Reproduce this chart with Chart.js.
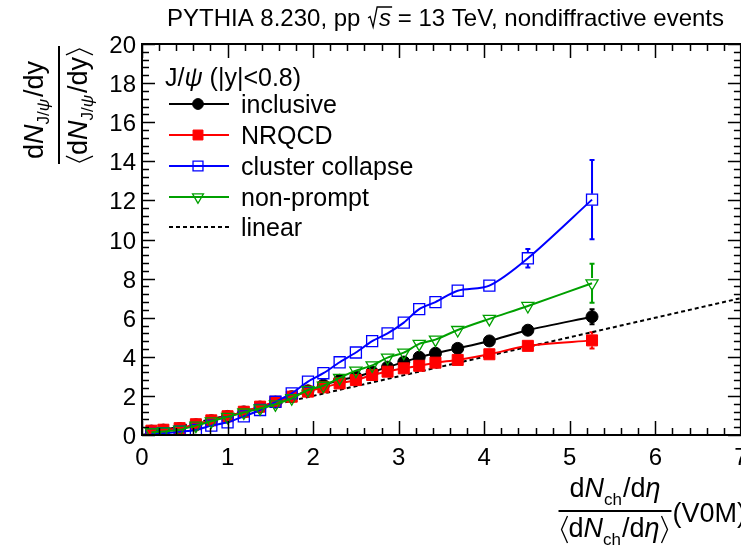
<!DOCTYPE html>
<html>
<head>
<meta charset="utf-8">
<script src="https://cdn.jsdelivr.net/npm/chart.js@4.4.0/dist/chart.umd.min.js"></script>
<style>
  html, body { margin: 0; padding: 0; background: #fff; overflow: hidden; }
  #wrap { position: relative; width: 750px; height: 545px; }
</style>
</head>
<body>
<div id="wrap"><canvas id="chart" width="750" height="545"></canvas></div>
<script>
// Self-normalised multiplicity bins (V0M)
const multiplicity = [0.11, 0.25, 0.44, 0.63, 0.81, 1.00, 1.19, 1.38, 1.56, 1.75, 1.94, 2.12,
  2.31, 2.50, 2.69, 2.87, 3.06, 3.24, 3.43, 3.69, 4.06, 4.51, 5.26];

// Self-normalised J/psi yields
const inclusive = [0.20, 0.25, 0.33, 0.52, 0.73, 0.95, 1.18, 1.43, 1.68, 1.96, 2.26, 2.55,
  2.80, 2.97, 3.22, 3.47, 3.73, 3.98, 4.18, 4.43, 4.81, 5.36, 6.05];
const nrqcd = [0.22, 0.27, 0.35, 0.55, 0.75, 0.96, 1.19, 1.45, 1.70, 1.96, 2.22, 2.44,
  2.64, 2.81, 3.07, 3.24, 3.41, 3.54, 3.70, 3.84, 4.13, 4.56, 4.84];
const clusterCollapse = [0.05, 0.09, 0.17, 0.26, 0.48, 0.65, 0.95, 1.28, 1.70, 2.13, 2.73, 3.16,
  3.72, 4.22, 4.80, 5.20, 5.75, 6.44, 6.80, 7.38, 7.64, 9.04, 12.04];
const nonPrompt = [0.14, 0.18, 0.27, 0.48, 0.70, 0.93, 1.15, 1.36, 1.57, 1.88, 2.30, 2.52,
  2.92, 3.29, 3.56, 3.96, 4.21, 4.66, 4.88, 5.37, 5.94, 6.60, 7.76];

// Statistical uncertainties
const inclusiveErr = [0.01, 0.01, 0.01, 0.01, 0.01, 0.01, 0.02, 0.02, 0.02, 0.02, 0.03, 0.03,
  0.03, 0.04, 0.04, 0.05, 0.05, 0.06, 0.06, 0.07, 0.08, 0.12, 0.38];
const nrqcdErr = [0.01, 0.01, 0.01, 0.02, 0.02, 0.02, 0.03, 0.03, 0.03, 0.04, 0.04, 0.05,
  0.05, 0.06, 0.06, 0.07, 0.07, 0.08, 0.08, 0.09, 0.10, 0.15, 0.42];
const clusterCollapseErr = [0.01, 0.01, 0.01, 0.02, 0.02, 0.03, 0.03, 0.04, 0.04, 0.05, 0.06, 0.06,
  0.07, 0.08, 0.09, 0.10, 0.11, 0.12, 0.13, 0.15, 0.18, 0.47, 2.03];
const nonPromptErr = [0.01, 0.01, 0.01, 0.02, 0.02, 0.03, 0.03, 0.04, 0.04, 0.05, 0.05, 0.06,
  0.06, 0.07, 0.08, 0.09, 0.10, 0.11, 0.12, 0.13, 0.15, 0.20, 1.00];

// Reference line y = x
const linearX = [0, 7];
const linearY = [0, 7];

// Axis ticks
const xTicks = [0, 1, 2, 3, 4, 5, 6, 7];
const yTicks = [0, 2, 4, 6, 8, 10, 12, 14, 16, 18, 20];

const FONT = '"Liberation Sans", Arial, Helvetica, sans-serif';
const GREEN = '#00a000';

function font(size, italic) {
  return (italic ? 'italic ' : '') + size + 'px ' + FONT;
}

function points(xs, ys) {
  return xs.map((x, i) => ({ x: x, y: ys[i] }));
}

// Draws pieces of text on one baseline; returns the width used
function drawRun(ctx, pieces, x, y, measureOnly) {
  let cx = x;
  for (const p of pieces) {
    if (p.gap) { cx += p.gap; continue; }
    if (p.bracket) {
      if (!measureOnly) {
        ctx.save();
        ctx.lineWidth = 1.3;
        ctx.beginPath();
        const top = y - p.h * 0.78, bot = y + p.h * 0.22, mid = (top + bot) / 2;
        if (p.bracket === 'left') {
          ctx.moveTo(cx + p.w, top); ctx.lineTo(cx + 1, mid); ctx.lineTo(cx + p.w, bot);
        } else {
          ctx.moveTo(cx, top); ctx.lineTo(cx + p.w - 1, mid); ctx.lineTo(cx, bot);
        }
        ctx.stroke();
        ctx.restore();
      }
      cx += p.w + 1;
      continue;
    }
    ctx.font = font(p.size, p.italic);
    if (!measureOnly) ctx.fillText(p.text, cx, y + (p.dy || 0));
    cx += ctx.measureText(p.text).width;
  }
  return cx - x;
}

function drawRunCentered(ctx, pieces, cx, y) {
  const w = drawRun(ctx, pieces, 0, 0, true);
  drawRun(ctx, pieces, cx - w / 2, y, false);
  return w;
}

// Error bars, only the parts sticking out of the marker
const errorBars = {
  id: 'errorBars',
  beforeDatasetsDraw(chart) {
    const ctx = chart.ctx;
    const xs = chart.scales.x, ys = chart.scales.y;
    chart.data.datasets.forEach((ds) => {
      if (!ds.errors) return;
      const gap = ds.pointRadius * 0.75;
      ctx.save();
      ctx.strokeStyle = ds.borderColor;
      ctx.lineWidth = 2;
      ds.data.forEach((pt, i) => {
        const e = ds.errors[i];
        const px = xs.getPixelForValue(pt.x);
        const py = ys.getPixelForValue(pt.y);
        const top = ys.getPixelForValue(pt.y + e);
        const bot = ys.getPixelForValue(pt.y - e);
        if (py - top <= gap) return;
        ctx.beginPath();
        ctx.moveTo(px, top); ctx.lineTo(px, py - gap);
        ctx.moveTo(px, py + gap); ctx.lineTo(px, bot);
        ctx.moveTo(px - 2.5, top); ctx.lineTo(px + 2.5, top);
        ctx.moveTo(px - 2.5, bot); ctx.lineTo(px + 2.5, bot);
        ctx.stroke();
      });
      ctx.restore();
    });
  }
};

// Frame, inward ticks, tick labels, axis titles, title and legend
const decorations = {
  id: 'decorations',
  afterDraw(chart) {
    const ctx = chart.ctx;
    const a = chart.chartArea;
    const xs = chart.scales.x, ys = chart.scales.y;
    ctx.save();
    ctx.fillStyle = '#000';
    ctx.strokeStyle = '#000';

    // frame
    ctx.lineWidth = 2;
    ctx.strokeRect(a.left, a.top, a.right - a.left, a.bottom - a.top);

    // ticks
    ctx.lineWidth = 1.5;
    ctx.beginPath();
    for (let i = 0; i <= 35; i++) {
      const v = i * 0.2;
      const px = Math.round(xs.getPixelForValue(v)) + 0.5;
      const len = i % 5 === 0 ? 14 : 7;
      ctx.moveTo(px, a.bottom); ctx.lineTo(px, a.bottom - len);
      ctx.moveTo(px, a.top); ctx.lineTo(px, a.top + len);
    }
    for (let i = 0; i <= 50; i++) {
      const v = i * 0.4;
      const py = Math.round(ys.getPixelForValue(v)) + 0.5;
      const len = i % 5 === 0 ? 13 : 7;
      ctx.moveTo(a.left, py); ctx.lineTo(a.left + len, py);
      ctx.moveTo(a.right, py); ctx.lineTo(a.right - len, py);
    }
    ctx.stroke();

    // tick labels
    ctx.font = font(24);
    ctx.textBaseline = 'alphabetic';
    ctx.textAlign = 'center';
    xTicks.forEach((v) => ctx.fillText(String(v), xs.getPixelForValue(v), a.bottom + 30));
    ctx.textAlign = 'right';
    yTicks.forEach((v) => ctx.fillText(String(v), a.left - 6, ys.getPixelForValue(v) + 9));
    ctx.textAlign = 'left';

    // title
    const titleY = 26;
    const ts = 24;
    let tx = 167;
    tx += drawRun(ctx, [{ text: 'PYTHIA 8.230, pp ', size: ts }], tx, titleY);
    ctx.font = font(ts, true);
    const sw = ctx.measureText('s').width;
    ctx.lineWidth = 1.3;
    ctx.beginPath();
    ctx.moveTo(tx + 1, titleY - 8); ctx.lineTo(tx + 3, titleY - 9.5);
    ctx.lineTo(tx + 6, titleY + 1); ctx.lineTo(tx + 10, titleY - 19);
    ctx.lineTo(tx + 12 + sw + 1, titleY - 19);
    ctx.stroke();
    tx += 12;
    drawRun(ctx, [{ text: 's', size: ts, italic: true },
      { text: ' = 13 TeV, nondiffractive events', size: ts }], tx, titleY);

    // y-axis title: fraction rotated along the axis
    ctx.save();
    ctx.translate(59, 105);
    ctx.rotate(-Math.PI / 2);
    const yNum = [
      { text: 'd', size: 27 }, { text: 'N', size: 27, italic: true },
      { text: 'J/', size: 17, dy: 6 }, { text: 'ψ', size: 17, italic: true, dy: 6 },
      { gap: 2 }, { text: '/dy', size: 27 }
    ];
    const yDen = [{ bracket: 'left', w: 7, h: 27 }].concat(yNum, [{ gap: 2 }, { bracket: 'right', w: 7, h: 27 }]);
    drawRunCentered(ctx, yNum, -5, -16);
    const wDen = drawRunCentered(ctx, yDen, 0, 28);
    ctx.lineWidth = 2;
    ctx.beginPath();
    ctx.moveTo(-wDen / 2 - 1, 0); ctx.lineTo(wDen / 2 + 1, 0);
    ctx.stroke();
    ctx.restore();

    // x-axis title
    const xNum = [
      { text: 'd', size: 27 }, { text: 'N', size: 27, italic: true },
      { text: 'ch', size: 17, dy: 8 }, { gap: 1 },
      { text: '/d', size: 27 }, { text: 'η', size: 27, italic: true }
    ];
    const xDen = [{ bracket: 'left', w: 7, h: 27 }].concat(xNum, [{ gap: 2 }, { bracket: 'right', w: 7, h: 27 }]);
    const fracCx = 615;
    drawRunCentered(ctx, xNum, fracCx, 497);
    const wx = drawRunCentered(ctx, xDen, fracCx, 537);
    ctx.lineWidth = 2;
    ctx.beginPath();
    ctx.moveTo(fracCx - wx / 2 - 2, 511); ctx.lineTo(fracCx + wx / 2 + 2, 511);
    ctx.stroke();
    drawRun(ctx, [{ text: '(V0M)', size: 27 }], fracCx + wx / 2 + 3, 522);

    // legend
    const lgX = 165;
    drawRun(ctx, [
      { text: 'J/', size: 25 }, { text: 'ψ', size: 25, italic: true }, { text: ' (|y|<0.8)', size: 25 }
    ], lgX, 86);
    const rowY = [104, 135, 166, 197, 227];
    chart.data.datasets.forEach((ds) => {
      const cy = rowY[ds.legendRow];
      ctx.save();
      ctx.strokeStyle = ds.borderColor;
      ctx.lineWidth = 2;
      if (ds.borderDash) ctx.setLineDash(ds.borderDash);
      ctx.beginPath();
      ctx.moveTo(169, cy); ctx.lineTo(229, cy);
      ctx.stroke();
      ctx.setLineDash([]);
      if (ds.pointRadius > 0) {
        ctx.fillStyle = ds.pointBackgroundColor;
        ctx.strokeStyle = ds.pointBorderColor;
        ctx.lineWidth = ds.pointBorderWidth;
        Chart.helpers.drawPoint(ctx, {
          pointStyle: ds.pointStyle, rotation: ds.pointRotation || 0,
          radius: ds.pointRadius * 0.9, borderWidth: ds.pointBorderWidth
        }, 198, cy);
      }
      ctx.restore();
      drawRun(ctx, [{ text: ds.label, size: 25 }], 241, cy + 9);
    });

    ctx.restore();
  }
};

function series(label, ys, errs, color, style, fill, radius, rotation, order, row) {
  return {
    label: label,
    data: points(multiplicity, ys),
    errors: errs,
    showLine: true,
    tension: 0.3,
    borderColor: color,
    borderWidth: 2,
    pointStyle: style,
    pointRotation: rotation,
    pointRadius: radius,
    pointBorderWidth: fill ? 1 : 1.3,
    pointBackgroundColor: fill ? color : 'rgba(0,0,0,0)',
    pointBorderColor: color,
    order: order,
    legendRow: row
  };
}

const datasets = [
  {
    label: 'linear',
    data: points(linearX, linearY),
    showLine: true,
    borderColor: '#000',
    borderWidth: 2,
    borderDash: [4, 3],
    pointRadius: 0,
    order: 6,
    legendRow: 4
  },
  series('inclusive', inclusive, inclusiveErr, '#000000', 'circle', true, 6, 0, 5, 0),
  series('NRQCD', nrqcd, nrqcdErr, '#ff0000', 'rect', true, 7.8, 0, 4, 1),
  series('cluster collapse', clusterCollapse, clusterCollapseErr, '#0000ff', 'rect', false, 7.8, 0, 3, 2),
  series('non-prompt', nonPrompt, nonPromptErr, GREEN, 'triangle', false, 7, 180, 2, 3)
];

new Chart(document.getElementById('chart').getContext('2d'), {
  type: 'scatter',
  data: { datasets: datasets },
  options: {
    responsive: false,
    animation: false,
    devicePixelRatio: 1,
    layout: { padding: { left: 142, top: 44, right: 8, bottom: 110 } },
    plugins: { legend: { display: false }, tooltip: { enabled: false } },
    scales: {
      x: { type: 'linear', min: 0, max: 7, display: false },
      y: { type: 'linear', min: 0, max: 20, display: false }
    }
  },
  plugins: [errorBars, decorations]
});
</script>
</body>
</html>
